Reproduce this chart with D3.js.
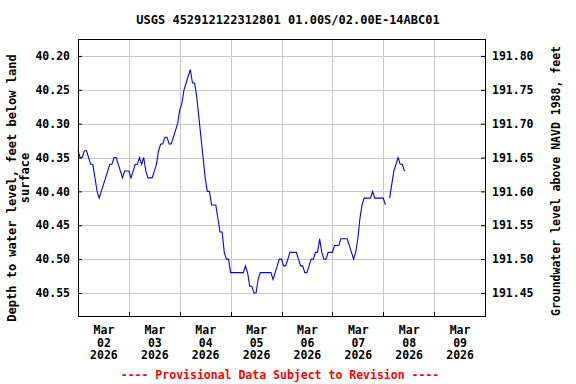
<!DOCTYPE html>
<html>
<head>
<meta charset="utf-8">
<script src="https://cdn.jsdelivr.net/npm/d3@7"></script>
<style>
  body { margin: 0; background: #fff; }
  svg text { font-family: "DejaVu Sans Mono", monospace; font-weight: bold; fill: #000; }
</style>
</head>
<body>
<svg id="chart" width="576" height="384"></svg>
<script>
const title = "USGS 452912122312801 01.00S/02.00E-14ABC01";
const leftLabel = ["Depth to water level, feet below land", "surface"];
const rightLabel = "Groundwater level above NAVD 1988, feet";
const footer = "---- Provisional Data Subject to Revision ----";

// hourly readings starting Mar 02 2026 00:00, null = missing
const startUtc = Date.UTC(2026, 2, 2, 0);
const depth = [
  40.34, 40.35, 40.35, 40.34, 40.34, 40.35, 40.36, 40.36, 40.38, 40.40,
  40.41, 40.40, 40.39, 40.38, 40.37, 40.36, 40.36, 40.35, 40.35, 40.36,
  40.37, 40.38, 40.37, 40.37, 40.37, 40.38, 40.37, 40.36, 40.36, 40.35,
  40.36, 40.35, 40.37, 40.38, 40.38, 40.38, 40.37, 40.36, 40.34, 40.33,
  40.33, 40.32, 40.32, 40.33, 40.33, 40.32, 40.31, 40.30, 40.28, 40.27,
  40.25, 40.24, 40.23, 40.22, 40.24, 40.24, 40.26, 40.29, 40.32, 40.35,
  40.38, 40.40, 40.40, 40.42, 40.42, 40.42, 40.44, 40.46, 40.46, 40.49,
  40.50, 40.50, 40.52, 40.52, 40.52, 40.52, 40.52, 40.52, 40.52, 40.51,
  40.52, 40.54, 40.54, 40.55, 40.55, 40.53, 40.52, 40.52, 40.52, 40.52,
  40.52, 40.52, 40.53, 40.52, 40.51, 40.50, 40.50, 40.51, 40.51, 40.50,
  40.49, 40.49, 40.49, 40.49, 40.50, 40.51, 40.51, 40.52, 40.52, 40.51,
  40.50, 40.50, 40.49, 40.49, 40.47, 40.49, 40.50, 40.50, 40.49, 40.49,
  40.49, 40.48, 40.48, 40.48, 40.47, 40.47, 40.47, 40.47, 40.48, 40.49,
  40.50, 40.49, 40.47, 40.44, 40.42, 40.41, 40.41, 40.41, 40.41, 40.40,
  40.41, 40.41, 40.41, 40.41, 40.41, 40.42, null, 40.41, 40.39, 40.37,
  40.36, 40.35, 40.36, 40.36, 40.37
];

const depthTicks = [40.20, 40.25, 40.30, 40.35, 40.40, 40.45, 40.50, 40.55];
const elevTicks = [191.80, 191.75, 191.70, 191.65, 191.60, 191.55, 191.50, 191.45];
const dayLabels = ["02", "03", "04", "05", "06", "07", "08", "09"];
const monthLabel = "Mar";
const yearLabel = "2026";
const datum = 232.00; // elevation = datum - depth

const margin = { top: 39, right: 91, bottom: 68, left: 78 };
const width = 576 - margin.left - margin.right;
const height = 384 - margin.top - margin.bottom;
const hour = 3600 * 1000;
const day = 24 * hour;

const svg = d3.select('#chart');
const g = svg.append('g').attr('transform', `translate(${margin.left},${margin.top})`);

const x = d3.scaleUtc()
  .domain([new Date(startUtc), new Date(startUtc + dayLabels.length * day)])
  .range([0, width]);
const y = d3.scaleLinear().domain([40.175, 40.584]).range([0, height]);
const yRight = d3.scaleLinear().domain(y.domain().map(d => datum - d)).range(y.range());

// grid
const midnights = d3.range(1, dayLabels.length).map(i => new Date(startUtc + i * day));
g.append('g').selectAll('line').data(midnights).join('line')
  .attr('x1', d => Math.round(x(d)) + 0.5).attr('x2', d => Math.round(x(d)) + 0.5)
  .attr('y1', 0).attr('y2', height)
  .attr('stroke', '#c8c8c8').attr('stroke-width', 1);
g.append('g').selectAll('line').data(depthTicks).join('line')
  .attr('x1', 0).attr('x2', width)
  .attr('y1', d => Math.round(y(d)) + 0.5).attr('y2', d => Math.round(y(d)) + 0.5)
  .attr('stroke', '#c8c8c8').attr('stroke-width', 1);

// axes
const fmt = d3.format('.2f');
const left = g.append('g')
  .call(d3.axisLeft(y).tickValues(depthTicks).tickFormat(fmt).tickSize(-4).tickPadding(8));
const right = g.append('g').attr('transform', `translate(${width},0)`)
  .call(d3.axisRight(yRight).tickValues(elevTicks).tickFormat(fmt).tickSize(-4).tickPadding(7));
const noons = dayLabels.map((d, i) => new Date(startUtc + i * day + 12 * hour));
const bottom = g.append('g').attr('transform', `translate(0,${height})`)
  .call(d3.axisBottom(x).tickValues(noons).tickFormat('').tickSize(0));
bottom.selectAll('.tick text').each(function(d, i) {
  const t = d3.select(this).attr('y', 18);
  [monthLabel, dayLabels[i], yearLabel].forEach((s, k) => {
    t.append('tspan').attr('x', 0).attr('dy', k === 0 ? 0 : 12.7).text(s);
  });
});
g.append('g').selectAll('line').data(midnights).join('line')
  .attr('x1', d => Math.round(x(d)) + 0.5).attr('x2', d => Math.round(x(d)) + 0.5)
  .attr('y1', height).attr('y2', height - 4).attr('stroke', '#000');

[left, right, bottom].forEach(a => {
  a.selectAll('.domain').remove();
  a.selectAll('text').style('font-size', '11.5px').attr('fill', '#000');
  a.selectAll('.tick line').attr('stroke', '#000');
});

// water level line
const line = d3.line()
  .defined(d => d.v != null)
  .x(d => x(d.t))
  .y(d => y(d.v));
const pts = depth.map((v, i) => ({ t: new Date(startUtc + i * hour), v }));
g.append('path').datum(pts)
  .attr('d', line)
  .attr('fill', 'none')
  .attr('stroke', '#0000ff')
  .attr('stroke-width', 1.1);

// frame
g.append('rect').attr('x', 0.5).attr('y', 0.5).attr('width', width).attr('height', height)
  .attr('fill', 'none').attr('stroke', '#000').attr('stroke-width', 1);

// titles
svg.append('text').attr('x', 288).attr('y', 24).attr('text-anchor', 'middle')
  .style('font-size', '12px').text(title);
svg.append('text').attr('transform', 'translate(16,188) rotate(-90)').attr('text-anchor', 'middle')
  .style('font-size', '12px').text(leftLabel[0]);
svg.append('text').attr('transform', 'translate(29,178) rotate(-90)').attr('text-anchor', 'middle')
  .style('font-size', '12px').text(leftLabel[1]);
svg.append('text').attr('transform', 'translate(560,181) rotate(-90)').attr('text-anchor', 'middle')
  .style('font-size', '11.5px').text(rightLabel);
svg.append('text').attr('x', 280).attr('y', 379).attr('text-anchor', 'middle')
  .style('font-size', '11.5px').style('fill', '#ff0000').text(footer);
</script>
</body>
</html>
